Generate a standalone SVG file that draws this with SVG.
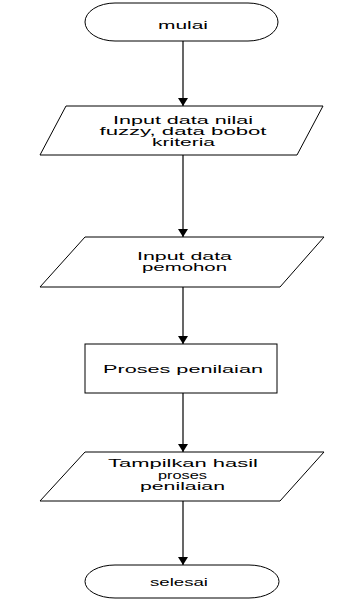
<svg xmlns="http://www.w3.org/2000/svg" width="355" height="599" viewBox="0 0 355 599">
<style>
.s{fill:#fff;stroke:#000;stroke-width:1}
.t{font-family:"Liberation Sans",Arial,sans-serif;font-size:11px;fill:#000;text-anchor:middle}
.c{stroke:#000;stroke-width:1.2;fill:none;marker-end:url(#ah)}
</style>
<defs>
<marker id="ah" viewBox="0 0 10 10" refX="10" refY="5" markerWidth="8" markerHeight="10" markerUnits="userSpaceOnUse" orient="auto" preserveAspectRatio="none">
<path d="M0,0 L10,5 L0,10 z" fill="#000"/>
</marker>
</defs>
<rect width="355" height="599" fill="#fff"/>
<g id="connectors">
<line class="c" x1="183" y1="41" x2="183" y2="106"/>
<line class="c" x1="183" y1="155" x2="183" y2="237"/>
<line class="c" x1="183" y1="287" x2="183" y2="344"/>
<line class="c" x1="183" y1="393" x2="183" y2="452"/>
<line class="c" x1="183" y1="501" x2="183" y2="565"/>
</g>
<g id="mulai">
<path class="s" d="M115,3 H248 A30,19 0 0 1 248,41 H115 A30,19 0 0 1 115,3 Z"/>
<text class="t" x="183" y="28.5" textLength="50" lengthAdjust="spacingAndGlyphs">mulai</text>
</g>
<g id="input1">
<polygon class="s" points="66,106 323,106 297,155 40,155"/>
<text class="t" x="183" y="124" textLength="140" lengthAdjust="spacingAndGlyphs">Input data nilai</text>
<text class="t" x="183" y="135" textLength="167" lengthAdjust="spacingAndGlyphs">fuzzy, data bobot</text>
<text class="t" x="183.5" y="146" textLength="63" lengthAdjust="spacingAndGlyphs">kriteria</text>
</g>
<g id="input2">
<polygon class="s" points="85,237 324,237 280,287 40,287"/>
<text class="t" x="184.5" y="260" textLength="95" lengthAdjust="spacingAndGlyphs">Input data</text>
<text class="t" x="184.5" y="270.5" textLength="85" lengthAdjust="spacingAndGlyphs">pemohon</text>
</g>
<g id="proses">
<rect class="s" x="85" y="344" width="192" height="49"/>
<text class="t" x="183" y="372.5" textLength="160" lengthAdjust="spacingAndGlyphs">Proses penilaian</text>
</g>
<g id="tampil">
<polygon class="s" points="85,452 324,452 280,501 40,501"/>
<text class="t" x="183" y="467" textLength="150" lengthAdjust="spacingAndGlyphs">Tampilkan hasil</text>
<text class="t" x="182.5" y="478.5" textLength="49" lengthAdjust="spacingAndGlyphs">proses</text>
<text class="t" x="182.5" y="490" textLength="85" lengthAdjust="spacingAndGlyphs">penilaian</text>
</g>
<g id="selesai">
<path class="s" d="M115,565 H249 A30,16.5 0 0 1 249,598 H115 A30,16.5 0 0 1 115,565 Z"/>
<text class="t" x="179" y="585.5" textLength="58" lengthAdjust="spacingAndGlyphs">selesai</text>
</g>
</svg>
